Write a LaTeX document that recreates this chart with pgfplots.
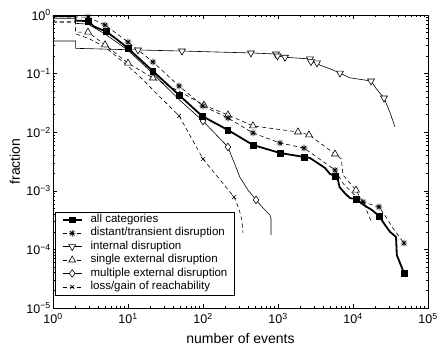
\documentclass[border=0pt]{standalone}
\usepackage{fontspec}
\setmainfont{Liberation Sans}
\usepackage{pgfplots}
\pgfplotsset{compat=1.18}
\usetikzlibrary{calc}
\pgfdeclareplotmark{mstar}{%
 \pgfpathmoveto{\pgfqpoint{\pgfplotmarksize}{0pt}}\pgfpathlineto{\pgfqpoint{-\pgfplotmarksize}{0pt}}%
 \pgfpathmoveto{\pgfqpoint{0pt}{\pgfplotmarksize}}\pgfpathlineto{\pgfqpoint{0pt}{-\pgfplotmarksize}}%
 \pgfpathmoveto{\pgfqpoint{.7071\pgfplotmarksize}{.7071\pgfplotmarksize}}\pgfpathlineto{\pgfqpoint{-.7071\pgfplotmarksize}{-.7071\pgfplotmarksize}}%
 \pgfpathmoveto{\pgfqpoint{.7071\pgfplotmarksize}{-.7071\pgfplotmarksize}}\pgfpathlineto{\pgfqpoint{-.7071\pgfplotmarksize}{.7071\pgfplotmarksize}}%
 \pgfusepathqstroke}
\pgfplotsset{
 allst/.style={black, line width=1.8bp, mark=square*, mark size=2.8bp, mark options={solid, fill=black, line width=0.5bp}},
 distst/.style={black, line width=0.6bp, dash pattern=on 4bp off 3bp, mark=mstar, mark size=3.3bp, mark options={solid, line width=0.7bp}},
 intst/.style={black, line width=0.6bp, mark=triangle*, mark size=4bp, mark options={solid, rotate=180, fill=white, line width=0.6bp}},
 singst/.style={black, line width=0.6bp, dash pattern=on 4bp off 3bp, mark=triangle*, mark size=4bp, mark options={solid, fill=white, line width=0.6bp}},
 multst/.style={black, line width=0.6bp, mark=diamond*, mark size=3.8bp, mark options={solid, fill=white, line width=0.6bp}},
 lossst/.style={black, line width=0.6bp, dash pattern=on 4bp off 3bp, mark=x, mark size=2.8bp, mark options={solid, line width=0.6bp}},
}
\begin{document}
\begin{tikzpicture}
\begin{axis}[
 xmode=log, ymode=log,
 scale only axis, width=375bp, height=293bp,
 xmin=1, xmax=1e5, ymin=1e-5, ymax=1,
 xtick={1,10,100,1000,10000,100000},
 xticklabels={10\textsuperscript{0},10\textsuperscript{1},10\textsuperscript{2},10\textsuperscript{3},10\textsuperscript{4},10\textsuperscript{5}},
 ytick={1e-5,1e-4,1e-3,1e-2,1e-1,1},
 yticklabels={10\textsuperscript{−5},10\textsuperscript{−4},10\textsuperscript{−3},10\textsuperscript{−2},10\textsuperscript{−1},10\textsuperscript{0}},
 tick style={black, line width=0.5bp},
 major tick length=4bp, minor tick length=2.2bp,
 axis line style={line width=0.8bp},
 tick label style={font=\fontsize{12.5bp}{14bp}\selectfont},
 xticklabel style={inner sep=0pt, anchor=north, yshift=-5bp},
 yticklabel style={inner sep=0pt, anchor=east, xshift=-2bp},
 xlabel={number of events}, ylabel={fraction},
 label style={font=\fontsize{14bp}{16bp}\selectfont},
 xlabel style={at={(axis description cs:0.5,0)}, anchor=base, yshift=-35bp},
 ylabel style={at={(axis description cs:0,0.5)}, rotate=0, anchor=base, yshift=33bp},
 legend style={at={(axis description cs:0.0053,0.044)}, anchor=south west,
   draw=black, line width=0.6bp, fill=white,
   font=\fontsize{11.5bp}{13bp}\selectfont,
   inner xsep=6.5bp, inner ysep=1.3bp, row sep=0pt, column sep=0bp,
   nodes={inner sep=0pt, text height=9.4bp, text depth=4bp}},
 legend cell align=left,
 legend image code/.code={\draw[mark repeat=2,mark phase=2,#1] plot coordinates {(0bp,0bp)(9.5bp,0bp)(19bp,0bp)}; \path (27bp,0bp);},
]
\coordinate (LL) at (rel axis cs:0,0);
\coordinate (UR) at (rel axis cs:1,1);
% all categories
\addplot[allst, mark=none, forget plot] coordinates {
(1,0.96) (2,0.96) (2,0.80) (2.93,0.79) (3.5,0.64) (4.3,0.57) (5.09,0.53) (6,0.45) (7,0.39) (8.5,0.32) (10,0.27)
(21.5,0.11) (48,0.043) (97,0.0189) (215,0.0109) (464,0.00605) (1063,0.00442) (2222,0.00378) (2670,0.00363)
(4236,0.00245) (4937,0.00194) (5754,0.00179) (6310,0.00153) (6610,0.00116) (7780,0.00091) (9120,0.00075)
(10965,0.000725) (12400,0.00064) (15300,0.00053) (17900,0.00047) (22230,0.000372) (26700,0.000262) (31100,0.0002)
(37450,0.000163) (38400,0.00008) (47860,0.0000396)};
% distant
\addplot[distst, mark=none, forget plot] coordinates {
(1,0.93) (2.93,0.92) (4.94,0.675) (10,0.346) (21.5,0.158) (48,0.0614) (100,0.028) (215,0.0175) (464,0.0097)
(1063,0.00654) (2222,0.00537) (5754,0.00226) (7500,0.0013) (10000,0.0009) (13600,0.000645) (22230,0.00053)
(27000,0.00037) (35000,0.00022) (47860,0.000128)};
% internal
\addplot[intst, mark=none, forget plot] coordinates {
(1,0.36) (2,0.36) (2,0.27) (13.6,0.253) (52.5,0.243) (436,0.225) (940,0.216) (985,0.2) (1240,0.19) (2670,0.178)
(2750,0.16) (3310,0.152) (3600,0.14) (5000,0.12) (6710,0.102) (9000,0.085) (17400,0.0748) (20500,0.055)
(25900,0.0383) (31000,0.022) (36300,0.0123)};
% single external
\addplot[singst, mark=none, forget plot] coordinates {
(1,0.76) (2,0.76) (2,0.51) (2.93,0.51) (4.94,0.31) (10,0.151) (21.5,0.084) (48,0.05) (103,0.029) (215,0.0197)
(464,0.0128) (1848,0.0101) (2590,0.0090) (5754,0.00425) (7000,0.0035) (7360,0.00186) (10965,0.00103)
(14000,0.0006) (17900,0.00028)};
% multiple external
\addplot[multst, mark=none, forget plot] coordinates {
(1,0.88) (2,0.88) (2,0.72) (2.93,0.7) (5,0.47) (10,0.25) (21.5,0.1) (48,0.036) (100,0.0155) (215,0.0056)
(251,0.0034) (311,0.0017) (398,0.00103) (509,0.0007) (631,0.00051) (780,0.000387) (807,0.00034) (807,0.000177)};
% loss/gain
\addplot[lossst, mark=none, forget plot] coordinates {
(1,0.76) (2,0.76) (2,0.48) (3.1,0.39) (5,0.28) (10,0.135) (14.5,0.0875) (26.7,0.04) (48,0.019) (100,0.0035)
(260,0.00078) (300,0.0005) (330,0.00032) (341,0.00019)};
% markers
\addplot[intst, only marks, forget plot] coordinates {
(13.6,0.253) (52.5,0.243) (436,0.225) (940,0.216) (985,0.2) (1240,0.19) (2670,0.178) (2750,0.16) (3310,0.152)
(6710,0.102) (17400,0.0748) (25900,0.0383)};
\addplot[multst, only marks, forget plot] coordinates {(100,0.0155) (215,0.0056) (509,0.0007)};
\addplot[lossst, only marks, forget plot] coordinates {(48,0.019) (100,0.0035) (260,0.00078)};
\addplot[singst, only marks, forget plot] coordinates {
(2.93,0.51) (4.94,0.31) (10,0.151) (21.5,0.084) (103,0.029) (215,0.0197) (464,0.0128) (1848,0.0101)
(2590,0.0090) (5754,0.00425) (10965,0.00103)};
\addplot[distst, only marks, forget plot] coordinates {
(2.93,0.92) (4.94,0.675) (10,0.346) (21.5,0.158) (48,0.0614) (100,0.028) (215,0.0175) (464,0.0097)
(1063,0.00654) (2222,0.00537) (5754,0.00226) (13600,0.000645) (22230,0.00053) (47860,0.000128)};
\addplot[allst, only marks, forget plot] coordinates {
(2.93,0.79) (5.09,0.53) (10,0.27) (21.5,0.11) (48,0.043) (97,0.0189) (215,0.0109) (464,0.00605)
(1063,0.00442) (2222,0.00378) (5754,0.00179) (10965,0.000725) (22230,0.000372) (47860,0.0000396)};
\addlegendimage{allst}\addlegendentry{all categories}
\addlegendimage{distst}\addlegendentry{distant/transient disruption}
\addlegendimage{intst}\addlegendentry{internal disruption}
\addlegendimage{singst}\addlegendentry{single external disruption}
\addlegendimage{multst}\addlegendentry{multiple external disruption}
\addlegendimage{lossst}\addlegendentry{loss/gain of reachability}
\end{axis}
\pgfresetboundingbox
\path[use as bounding box] ($(LL)+(-53bp,-44bp)$) rectangle ($(UR)+(9bp,15bp)$);
\end{tikzpicture}
\end{document}
